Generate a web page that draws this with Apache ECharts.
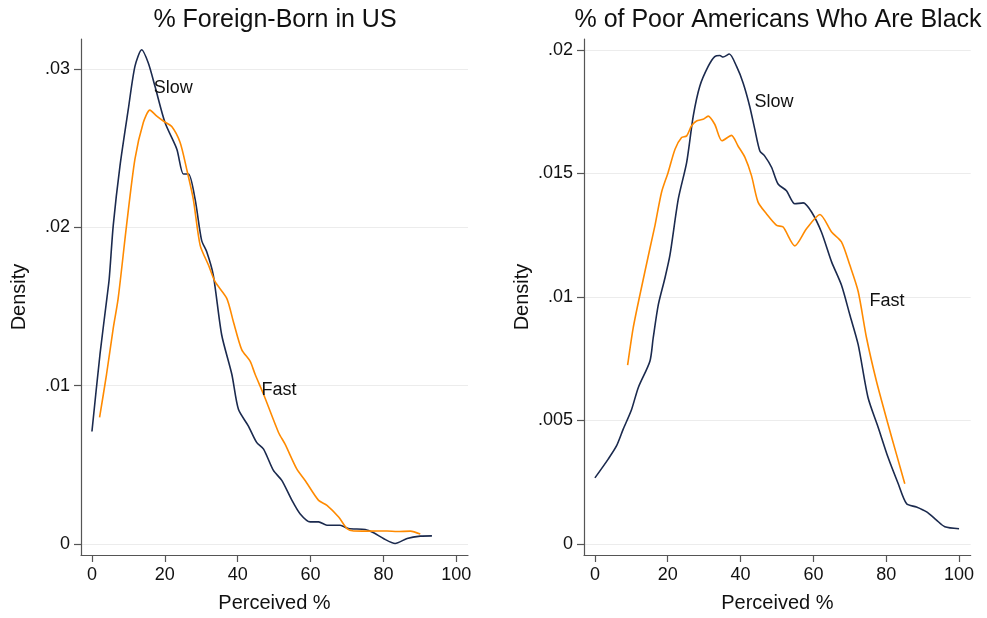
<!DOCTYPE html>
<html>
<head>
<meta charset="utf-8">
<title>Perceived shares: density by response speed</title>
<script src="https://cdn.jsdelivr.net/npm/echarts@6/dist/echarts.min.js"></script>
<style>
  html, body { margin: 0; padding: 0; background: #ffffff; }
  #chart { width: 987px; height: 618px; }
</style>
</head>
<body>
<div id="chart"></div>
<script>
// Kernel density estimates of perceived percentages, split by response speed.
// Each point is [perceived %, density].

// Panel 1: % Foreign-Born in US
const foreignSlow = [
  [0, 0.00711], [2.2, 0.01196], [4.1, 0.01552], [4.75, 0.01677], [5.85, 0.02013],
  [7.7, 0.02389], [9.97, 0.02745], [11.8, 0.03017], [13.65, 0.03122], [15.47, 0.03038],
  [17.3, 0.02891], [20.05, 0.02662], [23.3, 0.02494], [25.1, 0.02337], [26.5, 0.02337],
  [28.3, 0.0218], [30.1, 0.01918], [31.5, 0.01846], [33.3, 0.01699], [35.6, 0.01322],
  [38.4, 0.01071], [40.2, 0.00851], [42.9, 0.00747], [45.2, 0.00642], [47.1, 0.006],
  [49.8, 0.00465], [52.1, 0.00402], [54.9, 0.00276], [57.1, 0.00192], [59.9, 0.0014],
  [62.2, 0.0014], [64.5, 0.00119], [68.1, 0.00119], [70.4, 0.00098], [75, 0.00092],
  [77.3, 0.00071], [80, 0.00035], [83.2, 0.00004], [86.5, 0.00035], [90.1, 0.0005],
  [93.3, 0.00052]
];
const foreignFast = [
  [2.1, 0.008], [4.0, 0.01071], [5.85, 0.01364], [7.2, 0.01552], [9.5, 0.02013],
  [11.8, 0.02431], [14.1, 0.02662], [15.9, 0.02741], [17.8, 0.02703], [19.6, 0.02672],
  [21.9, 0.02637], [24.2, 0.02536], [26.0, 0.02368], [27.8, 0.0218], [29.7, 0.01887],
  [32.0, 0.01761], [33.8, 0.01657], [37.0, 0.01552], [38.8, 0.01406], [41.1, 0.01228],
  [43.4, 0.01155], [44.8, 0.01071], [47.1, 0.00946], [51.2, 0.00705], [53.0, 0.00631],
  [56.2, 0.00475], [58.5, 0.00402], [62.2, 0.00276], [64.5, 0.00245], [67.7, 0.00171],
  [70.0, 0.00098], [71.8, 0.00083], [75.5, 0.00082], [81.0, 0.00083], [83.7, 0.00079],
  [87.4, 0.00082], [90.1, 0.00063]
];

// Panel 2: % of Poor Americans Who Are Black
const blackSlow = [
  [0, 0.00268], [3.65, 0.00344], [5.96, 0.00398], [7.77, 0.00465], [10.07, 0.00545],
  [11.9, 0.00633], [15.1, 0.0074], [16.0, 0.00834], [17.4, 0.00968], [19.2, 0.01075],
  [20.6, 0.01169], [22.9, 0.01397], [25.2, 0.01545], [27.0, 0.01732], [28.8, 0.01853],
  [31.1, 0.01933], [32.9, 0.01973], [34.3, 0.01977], [35.2, 0.01971], [36.9, 0.01983],
  [38.9, 0.01933], [40.7, 0.01866], [42.5, 0.01772], [43.9, 0.01679], [45.3, 0.01591],
  [46.6, 0.01571], [48.5, 0.01525], [50.3, 0.01457], [52.6, 0.0143], [54.9, 0.01377],
  [57.2, 0.01381], [59.5, 0.01344], [62.2, 0.01263], [65.0, 0.01142], [67.7, 0.01048],
  [70.0, 0.00928], [72.3, 0.00807], [75.0, 0.00593], [77.8, 0.00472], [80.5, 0.00351],
  [83.3, 0.00244], [85.6, 0.00163], [88.3, 0.0015], [91.1, 0.0013], [93.8, 0.00097],
  [96.1, 0.0007], [100, 0.00062]
];
const blackFast = [
  [8.98, 0.00724], [10.5, 0.00874], [12.35, 0.01008], [15.1, 0.01196], [16.5, 0.0129],
  [18.3, 0.01424], [20.1, 0.01504], [22.0, 0.01598], [23.8, 0.01645], [25.2, 0.01652],
  [26.5, 0.01692], [27.9, 0.01712], [29.7, 0.01719], [31.1, 0.01732], [32.9, 0.01699],
  [34.9, 0.01632], [37.5, 0.01654], [39.3, 0.01611], [41.2, 0.01565], [43.0, 0.01491],
  [44.8, 0.01384], [47.1, 0.01337], [49.9, 0.0129], [51.7, 0.01283], [54.9, 0.01207],
  [58.1, 0.01276], [61.8, 0.01334], [65.0, 0.01263], [67.7, 0.01223], [70.0, 0.01129],
  [72.3, 0.01022], [74.6, 0.00834], [77.3, 0.0066], [80.5, 0.00485], [82.8, 0.00364],
  [85.1, 0.00244]
];

// Curve labels, anchored at [perceived %, density]
const foreignLabels = [["Slow", 16.8, 0.0288], ["Fast", 46.4, 0.00976]];
const blackLabels = [["Slow", 43.7, 0.01789], ["Fast", 75.3, 0.00984]];

// Axis ticks
const xTicks = [0, 20, 40, 60, 80, 100];
const foreignYTicks = [0, 0.01, 0.02, 0.03];
const blackYTicks = [0, 0.005, 0.01, 0.015, 0.02];

const titles = ["% Foreign-Born in US", "% of Poor Americans Who Are Black"];
const xName = "Perceived %";
const yName = "Density";

const FONT = "'Liberation Sans', Arial, Helvetica, sans-serif";
const AXIS_COLOR = "#555555";
const SLOW_COLOR = "#1b2a4e";
const FAST_COLOR = "#ff8a00";

function trimZero(v) {
  if (v === 0) return "0";
  return String(+v.toFixed(4)).replace(/^0\./, ".");
}

function xAxisFor(gridIndex) {
  return {
    type: "value", gridIndex: gridIndex,
    min: -3, max: 103.2,
    name: xName, nameLocation: "middle", nameGap: 38,
    nameTextStyle: { fontFamily: FONT, fontSize: 20, color: "#111" },
    axisLine: { show: true, onZero: false, lineStyle: { color: AXIS_COLOR, width: 1.2 } },
    axisTick: { show: true, length: 7, customValues: xTicks, lineStyle: { color: AXIS_COLOR, width: 1.2 } },
    axisLabel: { customValues: xTicks, margin: 11, fontFamily: FONT, fontSize: 18, color: "#111" },
    splitLine: { show: false }
  };
}

function yAxisFor(gridIndex, min, max, ticks) {
  return {
    type: "value", gridIndex: gridIndex,
    min: min, max: max,
    name: yName, nameLocation: "middle", nameGap: 52, nameRotate: 90,
    nameTextStyle: { fontFamily: FONT, fontSize: 20, color: "#111" },
    axisLine: { show: true, onZero: false, lineStyle: { color: AXIS_COLOR, width: 1.2 } },
    axisTick: { show: true, length: 7, customValues: ticks, lineStyle: { color: AXIS_COLOR, width: 1.2 } },
    axisLabel: { customValues: ticks, margin: 11, fontFamily: FONT, fontSize: 18, color: "#111", formatter: trimZero },
    splitLine: { show: true, lineStyle: { color: "#ececec", width: 1 } }
  };
}

function curve(data, color, axisIndex) {
  return {
    type: "line", data: data,
    xAxisIndex: axisIndex, yAxisIndex: axisIndex,
    showSymbol: false, smooth: 0.25, silent: true,
    lineStyle: { color: color, width: 1.6 },
    z: 3
  };
}

function labels(list, axisIndex) {
  return {
    type: "scatter",
    xAxisIndex: axisIndex, yAxisIndex: axisIndex,
    symbolSize: 1, itemStyle: { color: "rgba(255,255,255,0)" }, silent: true,
    data: list.map(function (l) { return { name: l[0], value: [l[1], l[2]] }; }),
    label: {
      show: true, position: "right", distance: 0, opacity: 1,
      textBorderWidth: 0,
      formatter: "{b}", fontFamily: FONT, fontSize: 18, color: "#111"
    },
    z: 4
  };
}

const chart = echarts.init(document.getElementById("chart"), null, { renderer: "canvas" });
chart.setOption({
  backgroundColor: "#ffffff",
  animation: false,
  title: [
    { text: titles[0], left: 270, top: 3, textAlign: "center",
      textStyle: { fontFamily: FONT, fontSize: 25, fontWeight: "normal", color: "#111" } },
    { text: titles[1], left: 773, top: 3, textAlign: "center",
      textStyle: { fontFamily: FONT, fontSize: 25, fontWeight: "normal", color: "#111" } }
  ],
  grid: [
    { left: 81, top: 39, width: 387, height: 519.3 },
    { left: 584, top: 39, width: 386.7, height: 519.3 }
  ],
  xAxis: [xAxisFor(0), xAxisFor(1)],
  yAxis: [
    yAxisFor(0, -0.00069, 0.0319, foreignYTicks),
    yAxisFor(1, -0.000442, 0.02044, blackYTicks)
  ],
  series: [
    curve(foreignSlow, SLOW_COLOR, 0),
    curve(foreignFast, FAST_COLOR, 0),
    curve(blackSlow, SLOW_COLOR, 1),
    curve(blackFast, FAST_COLOR, 1),
    labels(foreignLabels, 0),
    labels(blackLabels, 1)
  ]
});
</script>
</body>
</html>
